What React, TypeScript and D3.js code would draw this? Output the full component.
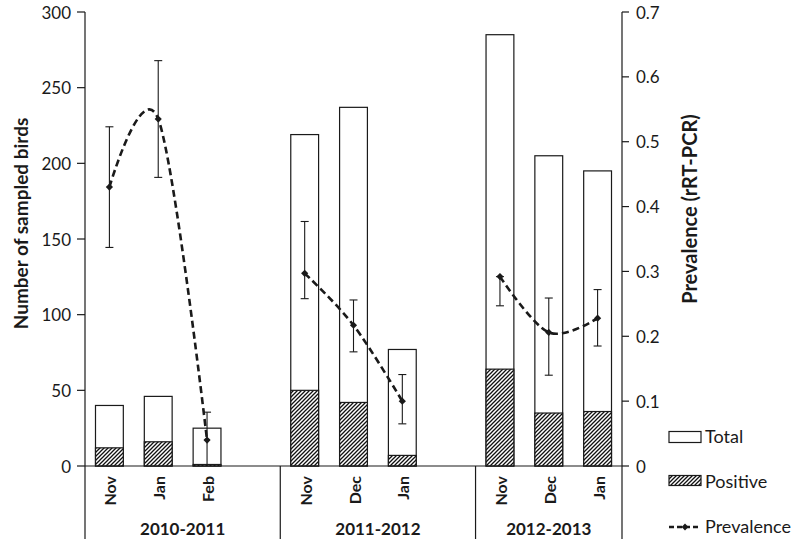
import React from "react";
import * as d3 from "d3";

const seasons = ["2010-2011", "2011-2012", "2012-2013"];
const seasonIndex = [0, 0, 0, 1, 1, 1, 2, 2, 2];
const months = ["Nov", "Jan", "Feb", "Nov", "Dec", "Jan", "Nov", "Dec", "Jan"];
const totalBirds = [40, 46, 25, 219, 237, 77, 285, 205, 195];
const positiveBirds = [12, 16, 1, 50, 42, 7, 64, 35, 36];
const prevalence = [0.43, 0.535, 0.04, 0.297, 0.217, 0.1, 0.292, 0.206, 0.228];
const ciLow = [0.337, 0.445, 0, 0.258, 0.176, 0.065, 0.247, 0.14, 0.185];
const ciHigh = [0.523, 0.625, 0.083, 0.377, 0.256, 0.141, 0.292, 0.259, 0.272];
const countTicks = [0, 50, 100, 150, 200, 250, 300];
const prevTicks = [0, 0.1, 0.2, 0.3, 0.4, 0.5, 0.6, 0.7];

const W = 800;
const H = 547;
const left = 85;
const right = 622;
const top = 12;
const bottom = 466;
const font = "Lato, 'Open Sans', sans-serif";
const ink = "#1a1a1a";

// one slot per month, plus an empty slot between seasons
const slots: string[] = [];
seasons.forEach((s, si) => {
  months.forEach((m, i) => {
    if (seasonIndex[i] === si) slots.push("m" + i);
  });
  if (si < seasons.length - 1) slots.push("gap" + si);
});

const padIn = 0.43;
const x = d3.scaleBand<string>().domain(slots).range([left, right]).paddingInner(padIn).paddingOuter(padIn / 2);
const yCount = d3.scaleLinear().domain([0, 300]).range([bottom, top]);
const yPrev = d3.scaleLinear().domain([0, 0.7]).range([bottom, top]);

const step = x.step();
const slotStart = (key: string) => (x(key) as number) - (padIn * step) / 2;
const cx = (i: number) => (x("m" + i) as number) + x.bandwidth() / 2;

// season boundaries along the x axis
const bounds = [left];
seasons.forEach((_, si) => {
  if (si < seasons.length - 1) bounds.push(slotStart("gap" + si) + step);
});
bounds.push(right);

const line = d3
  .line<number>()
  .x((i) => cx(i))
  .y((i) => yPrev(prevalence[i]))
  .curve(d3.curveCardinal.tension(0));

const Diamond = ({ px, py, r = 3.6 }: { px: number; py: number; r?: number }) => (
  <path d={`M${px},${py - r}L${px + r},${py}L${px},${py + r}L${px - r},${py}Z`} fill={ink} />
);

export default function App() {
  const idx = months.map((_, i) => i);
  const lgX = 669;
  return (
    <svg
      width={W}
      height={H}
      style={{ position: "absolute", left: 0, top: 0, background: "#fff" }}
      fontFamily={font}
    >
      <defs>
        <pattern id="hatch" width="4" height="4" patternUnits="userSpaceOnUse">
          <rect width="4" height="4" fill="#fff" />
          <path d="M-1,1 l2,-2 M0,4 l4,-4 M3,5 l2,-2" stroke="#111" strokeWidth="1.3" />
        </pattern>
      </defs>

      {/* bars */}
      {idx.map((i) => (
        <g key={"bar" + i}>
          <rect
            x={x("m" + i)}
            y={yCount(totalBirds[i])}
            width={x.bandwidth()}
            height={bottom - yCount(totalBirds[i])}
            fill="#fff"
            stroke={ink}
            strokeWidth={1.2}
          />
          <rect
            x={x("m" + i)}
            y={yCount(positiveBirds[i])}
            width={x.bandwidth()}
            height={bottom - yCount(positiveBirds[i])}
            fill="url(#hatch)"
            stroke={ink}
            strokeWidth={1.2}
          />
        </g>
      ))}

      {/* axes */}
      <line x1={left} x2={right} y1={bottom} y2={bottom} stroke={ink} strokeWidth={1.2} />
      <line x1={left} x2={left} y1={top} y2={539} stroke={ink} strokeWidth={1.2} />
      <line x1={right} x2={right} y1={top} y2={539} stroke={ink} strokeWidth={1.2} />
      {bounds.slice(1, -1).map((b, k) => (
        <line key={"sep" + k} x1={b} x2={b} y1={bottom} y2={539} stroke={ink} strokeWidth={1.2} />
      ))}

      {countTicks.map((t) => (
        <g key={"lt" + t}>
          <line x1={left - 8} x2={left} y1={yCount(t)} y2={yCount(t)} stroke={ink} strokeWidth={1.2} />
          <text x={left - 14} y={yCount(t)} textAnchor="end" dominantBaseline="central" fontSize={17} fill={ink}>
            {t}
          </text>
        </g>
      ))}
      {prevTicks.map((t) => (
        <g key={"rt" + t}>
          <line x1={right} x2={right + 7} y1={yPrev(t)} y2={yPrev(t)} stroke={ink} strokeWidth={1.2} />
          <text x={right + 14} y={yPrev(t)} dominantBaseline="central" fontSize={17} fill={ink}>
            {t === 0 ? "0" : d3.format(".1f")(t)}
          </text>
        </g>
      ))}

      {/* month and season labels */}
      {idx.map((i) => (
        <text
          key={"mo" + i}
          transform={`translate(${cx(i) + 7},476) rotate(-90)`}
          textAnchor="end"
          fontSize={16}
          fontWeight="bold"
          fill={ink}
        >
          {months[i]}
        </text>
      ))}
      {seasons.map((s, si) => (
        <text
          key={s}
          x={(bounds[si] + bounds[si + 1]) / 2}
          y={535}
          textAnchor="middle"
          fontSize={17}
          fontWeight="bold"
          fill={ink}
        >
          {s}
        </text>
      ))}

      {/* axis titles */}
      <text
        transform={`translate(28,223.5) rotate(-90)`}
        textAnchor="middle"
        fontSize={19}
        fontWeight="bold"
        fill={ink}
      >
        Number of sampled birds
      </text>
      <text
        transform={`translate(697,209) rotate(-90)`}
        textAnchor="middle"
        fontSize={20}
        fontWeight="bold"
        fill={ink}
      >
        Prevalence (rRT-PCR)
      </text>

      {/* error bars */}
      {idx.map((i) => (
        <g key={"err" + i} stroke={ink} strokeWidth={1.1}>
          <line x1={cx(i)} x2={cx(i)} y1={yPrev(ciLow[i])} y2={yPrev(ciHigh[i])} />
          <line x1={cx(i) - 4} x2={cx(i) + 4} y1={yPrev(ciHigh[i])} y2={yPrev(ciHigh[i])} />
          {ciLow[i] > 0 && <line x1={cx(i) - 4} x2={cx(i) + 4} y1={yPrev(ciLow[i])} y2={yPrev(ciLow[i])} />}
        </g>
      ))}

      {/* prevalence line per season */}
      {seasons.map((s, si) => (
        <path
          key={"ln" + s}
          d={line(idx.filter((i) => seasonIndex[i] === si)) || ""}
          fill="none"
          stroke={ink}
          strokeWidth={2.6}
          strokeDasharray="7,4"
        />
      ))}
      {idx.map((i) => (
        <Diamond key={"pt" + i} px={cx(i)} py={yPrev(prevalence[i])} />
      ))}

      {/* legend */}
      <rect x={lgX} y={431.5} width={32} height={11} fill="#fff" stroke={ink} strokeWidth={1.2} />
      <text x={lgX + 36} y={443} fontSize={18} fill={ink}>
        Total
      </text>
      <rect x={lgX} y={475.5} width={32} height={10} fill="url(#hatch)" stroke={ink} strokeWidth={1.2} />
      <text x={lgX + 36} y={488} fontSize={18} fill={ink}>
        Positive
      </text>
      <line x1={lgX} x2={lgX + 32} y1={527} y2={527} stroke={ink} strokeWidth={2.6} strokeDasharray="5,3" />
      <Diamond px={lgX + 16} py={527} r={3.4} />
      <text x={lgX + 36} y={533} fontSize={18} fill={ink}>
        Prevalence
      </text>
    </svg>
  );
}
